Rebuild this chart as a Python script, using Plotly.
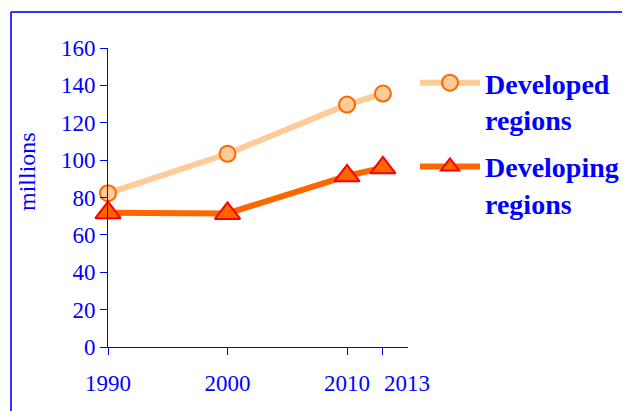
import plotly.graph_objects as go

years = [1990, 2000, 2010, 2013]
developed = [82.3, 103.4, 129.7, 135.6]
developing = [71.9, 71.5, 91.6, 95.9]
series_names = ["Developed<br>regions", "Developing<br>regions"]
x_tick_vals = [1990, 2000, 2010, 2013]
x_tick_text = ["1990", "2000", "2010", ""]
last_year_label = "2013"
y_tick_vals = [0, 20, 40, 60, 80, 100, 120, 140, 160]

BLUE = "#0000FF"
FONT = "Liberation Serif, Times New Roman, serif"

fig = go.Figure()
fig.add_trace(go.Scatter(
    x=years, y=developed, name=series_names[0], mode="lines+markers",
    legendgroup="a",
    line=dict(color="#FFCC99", width=6),
    marker=dict(symbol="circle", size=16, color="#FFCC99",
                line=dict(color="#FF6600", width=2)),
    cliponaxis=False,
))
fig.add_trace(go.Scatter(
    x=years, y=developing, name=series_names[1], mode="lines+markers",
    legendgroup="b",
    line=dict(color="#FF6600", width=6),
    marker=dict(symbol="triangle-up", size=22, color="#FF6600",
                line=dict(color="#FF0000", width=2)),
    cliponaxis=False,
))

# page body margin offset (8px) -> coordinates below are in reference pixels
OFF = 8
W, H = 630 - OFF, 411 - OFF
# reference plot area: x 108..408, y 48..347
L = 108 - OFF
R = 630 - 408
T = 48 - OFF
B = 411 - 347
pw, ph = W - L - R, H - T - B

def px(xp):
    return (xp - OFF - L) / pw

def py(yp):
    return (H - B - (yp - OFF)) / ph

fig.update_layout(
    width=W, height=H,
    margin=dict(l=L, r=R, t=T, b=B, autoexpand=False),
    paper_bgcolor="white", plot_bgcolor="white",
    font=dict(family=FONT, color=BLUE, size=23),
    showlegend=True,
    legend=dict(
        x=px(415), y=py(58), xanchor="left", yanchor="top",
        font=dict(family=FONT, size=28, color=BLUE, weight="bold"),
        valign="top", itemwidth=60, tracegroupgap=8,
        bgcolor="rgba(0,0,0,0)",
    ),
    xaxis=dict(
        range=[1990, 2015.1], tickvals=x_tick_vals, ticktext=x_tick_text,
        showgrid=False, zeroline=False, showline=True, linecolor=BLUE, linewidth=1,
        ticks="outside", ticklen=7, tickcolor=BLUE, tickwidth=1,
        tickfont=dict(family=FONT, size=23, color=BLUE),
        tickangle=0, automargin=False,
        ticklabelstandoff=8,
    ),
    yaxis=dict(
        range=[0, 160], tickvals=y_tick_vals,
        showgrid=False, zeroline=False, showline=True, linecolor=BLUE, linewidth=1,
        ticks="outside", ticklen=7, tickcolor=BLUE, tickwidth=1,
        tickfont=dict(family=FONT, size=23, color=BLUE),
        automargin=False,
    ),
    annotations=[
        dict(text="millions", textangle=-90, xref="paper", yref="paper",
             x=px(27), y=py(172), xanchor="center", yanchor="middle",
             showarrow=False, font=dict(family=FONT, size=24, color=BLUE)),
        dict(text=last_year_label, xref="x", yref="paper",
             x=years[-1], y=py(383), xanchor="center", yanchor="middle",
             xshift=24, showarrow=False,
             font=dict(family=FONT, size=23, color=BLUE)),
    ],
    shapes=[
        dict(type="line", xref="paper", yref="paper", x0=px(11), x1=px(11),
             y0=py(12), y1=py(420), line=dict(color="#3333FF", width=2)),
        dict(type="line", xref="paper", yref="paper", x0=px(11), x1=px(640),
             y0=py(12), y1=py(12), line=dict(color="#3333FF", width=2)),
    ],
)

fig.write_html("out.html")
